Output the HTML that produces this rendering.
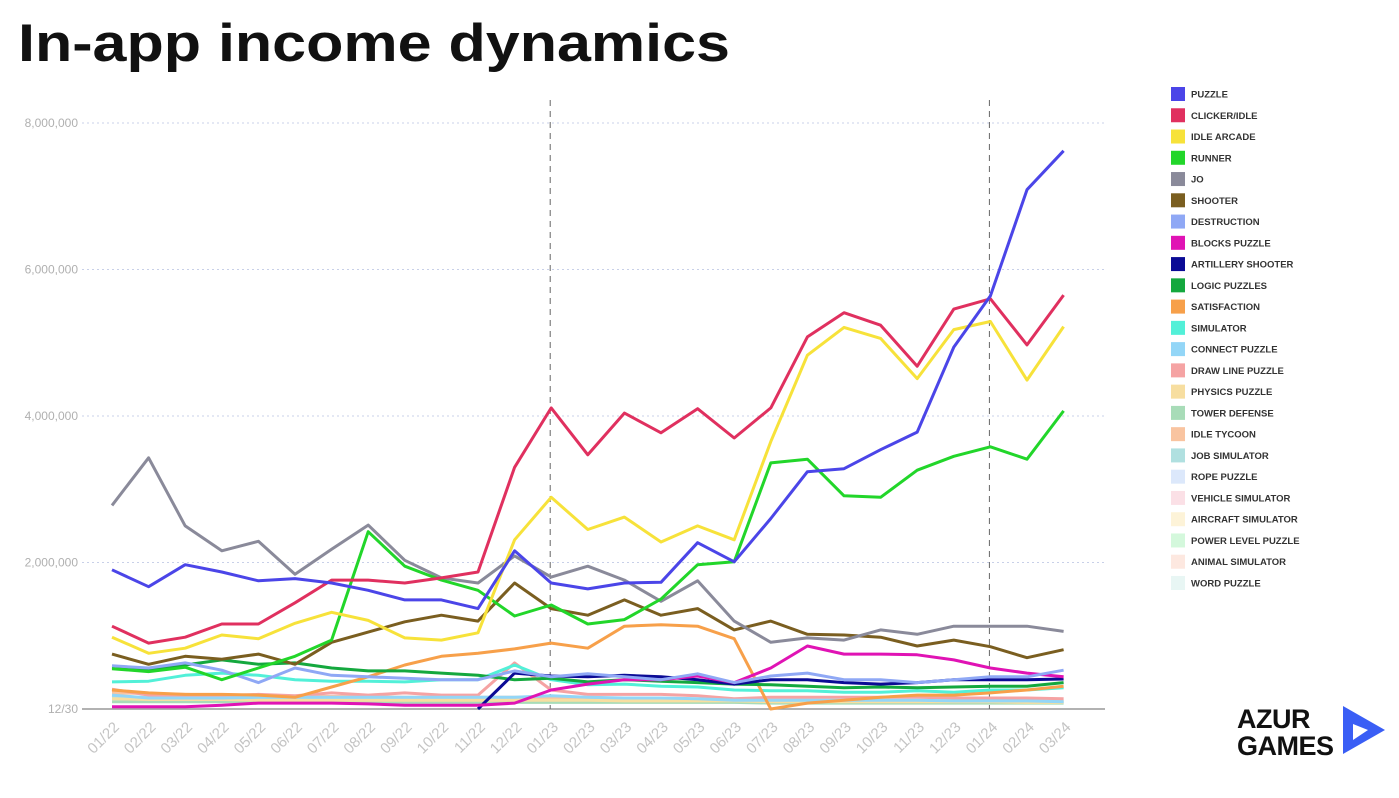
<!DOCTYPE html>
<html><head><meta charset="utf-8"><style>
body{margin:0;background:#fff;width:1399px;height:798px;overflow:hidden;font-family:"Liberation Sans",sans-serif}
svg{position:absolute;left:0;top:0}
</style></head><body>
<svg id="c" width="1399" height="798">
<text x="18" y="61" font-size="53" font-weight="bold" fill="#111" textLength="712" lengthAdjust="spacingAndGlyphs">In-app income dynamics</text>
<g id="grid"></g><g id="lines"></g><g id="legend"></g>
<g>
<text x="1237" y="728" font-size="27" font-weight="bold" fill="#111" letter-spacing="-0.5">AZUR</text>
<text x="1237" y="755" font-size="27" font-weight="bold" fill="#111" letter-spacing="-0.5">GAMES</text>
<polygon points="1343,706 1385,730 1343,754" fill="#3a5ef5"/>
<polygon points="1353,724 1368,730 1353,740" fill="#fff"/>
</g>
</svg>
<script>
const months=["01/22","02/22","03/22","04/22","05/22","06/22","07/22","08/22","09/22","10/22","11/22","12/22","01/23","02/23","03/23","04/23","05/23","06/23","07/23","08/23","09/23","10/23","11/23","12/23","01/24","02/24","03/24"];
const yTicks=[0,2,4,6,8];
const yTickLabels=["12/30","2,000,000","4,000,000","6,000,000","8,000,000"];
const seriesNames=["PUZZLE","CLICKER/IDLE","IDLE ARCADE","RUNNER","JO","SHOOTER","DESTRUCTION","BLOCKS PUZZLE","ARTILLERY SHOOTER","LOGIC PUZZLES","SATISFACTION","SIMULATOR","CONNECT PUZZLE","DRAW LINE PUZZLE","PHYSICS PUZZLE","TOWER DEFENSE","IDLE TYCOON","JOB SIMULATOR","ROPE PUZZLE","VEHICLE SIMULATOR","AIRCRAFT SIMULATOR","POWER LEVEL PUZZLE","ANIMAL SIMULATOR","WORD PUZZLE"];
const seriesColors=["#4b45e8","#e0305f","#f7e23a","#22d62a","#8a8a9a","#7a5e20","#8fa8f5","#e013b4","#0b0b95","#14a83e","#f7a04a","#52f0d8","#93d6f7","#f5a3a3","#f7dea0","#a8dcb8","#f9c4a0","#b0e0e0","#dce8fb","#fbe0e6","#fdf3d8","#d4f8dc","#fde8e0","#e8f6f4"];
const puzzle=[1.90,1.67,1.97,1.87,1.75,1.78,1.72,1.62,1.49,1.49,1.37,2.16,1.72,1.64,1.72,1.73,2.27,2.01,2.60,3.24,3.28,3.54,3.78,4.94,5.64,7.09,7.62];
const clicker=[1.13,0.90,0.98,1.16,1.16,1.45,1.76,1.76,1.72,1.79,1.87,3.30,4.11,3.47,4.04,3.77,4.10,3.70,4.11,5.08,5.41,5.24,4.68,5.46,5.60,4.97,5.65];
const idleArcade=[0.98,0.76,0.83,1.01,0.96,1.17,1.32,1.21,0.97,0.94,1.04,2.31,2.89,2.45,2.62,2.28,2.50,2.31,3.65,4.83,5.21,5.06,4.51,5.18,5.29,4.49,5.22];
const runner=[0.55,0.51,0.57,0.40,0.56,0.72,0.94,2.42,1.95,1.76,1.62,1.27,1.42,1.16,1.22,1.50,1.97,2.01,3.36,3.41,2.91,2.89,3.26,3.45,3.58,3.41,4.07];
const jo=[2.78,3.43,2.50,2.16,2.29,1.84,2.18,2.51,2.03,1.79,1.72,2.09,1.80,1.95,1.76,1.47,1.75,1.20,0.91,0.97,0.94,1.08,1.02,1.13,1.13,1.13,1.06];
const shooter=[0.75,0.61,0.72,0.68,0.75,0.61,0.91,1.05,1.19,1.28,1.20,1.72,1.37,1.28,1.49,1.28,1.37,1.08,1.20,1.02,1.01,0.98,0.86,0.94,0.85,0.70,0.81];
const destruction=[0.59,0.56,0.63,0.53,0.36,0.56,0.46,0.44,0.42,0.40,0.40,0.52,0.44,0.48,0.44,0.40,0.48,0.36,0.45,0.49,0.40,0.40,0.36,0.40,0.44,0.44,0.53];
const blocks=[0.03,0.03,0.03,0.05,0.08,0.08,0.08,0.07,0.05,0.05,0.05,0.08,0.26,0.34,0.40,0.40,0.45,0.36,0.56,0.86,0.75,0.75,0.74,0.67,0.56,0.49,0.44];
const artillery=[null,null,null,null,null,null,null,null,null,null,0,0.49,0.45,0.44,0.46,0.44,0.40,0.34,0.40,0.40,0.36,0.34,0.36,0.40,0.40,0.40,0.41];
const logic=[0.57,0.53,0.60,0.67,0.61,0.63,0.56,0.52,0.52,0.49,0.46,0.40,0.42,0.37,0.40,0.38,0.36,0.34,0.33,0.31,0.29,0.30,0.29,0.30,0.31,0.31,0.36];
const satisfaction=[0.26,0.22,0.20,0.20,0.19,0.16,0.30,0.44,0.60,0.72,0.76,0.82,0.90,0.83,1.13,1.15,1.13,0.96,0.00,0.08,0.12,0.16,0.19,0.19,0.22,0.26,0.31];
const simulator=[0.37,0.38,0.46,0.49,0.46,0.40,0.38,0.38,0.37,0.40,0.40,0.60,0.40,0.33,0.34,0.31,0.30,0.26,0.25,0.25,0.23,0.23,0.25,0.23,0.26,0.26,0.29];
const connect=[0.19,0.15,0.15,0.15,0.16,0.16,0.16,0.16,0.16,0.16,0.16,0.16,0.18,0.16,0.15,0.15,0.14,0.12,0.12,0.12,0.12,0.12,0.12,0.11,0.11,0.11,0.10];
const drawLine=[0.27,0.19,0.19,0.18,0.20,0.18,0.22,0.19,0.22,0.19,0.19,0.63,0.26,0.20,0.20,0.20,0.18,0.14,0.16,0.16,0.16,0.16,0.16,0.15,0.15,0.15,0.14];
const physics=[0.14,0.13,0.13,0.13,0.12,0.12,0.12,0.12,0.12,0.12,0.12,0.12,0.12,0.12,0.11,0.11,0.11,0.11,0.10,0.10,0.10,0.10,0.10,0.10,0.10,0.09,0.09];
const towerDefense=[0.10,0.10,0.10,0.10,0.10,0.10,0.10,0.10,0.09,0.09,0.09,0.09,0.09,0.09,0.09,0.09,0.09,0.09,0.08,0.08,0.08,0.08,0.08,0.08,0.08,0.08,0.08];
const idleTycoon=[0.22,0.21,0.20,0.19,0.18,0.17,0.17,0.17,0.16,0.16,0.16,0.16,0.15,0.14,0.14,0.14,0.13,0.13,0.12,0.12,0.12,0.12,0.11,0.11,0.11,0.11,0.11];
const jobSim=[0.16,0.16,0.15,0.15,0.15,0.15,0.15,0.14,0.14,0.14,0.14,0.13,0.13,0.13,0.13,0.12,0.12,0.12,0.12,0.12,0.11,0.11,0.11,0.11,0.11,0.10,0.10];
const seriesValues=[puzzle,clicker,idleArcade,runner,jo,shooter,destruction,blocks,artillery,logic,satisfaction,simulator,connect,drawLine,physics,towerDefense,idleTycoon,jobSim];
const NS="http://www.w3.org/2000/svg";
const x0=112,dx=36.6,y0=709,pxPerUnit=73.25;
const xs=i=>x0+i*dx, ys=v=>y0-v*pxPerUnit;
function mk(t,a,p){const e=document.createElementNS(NS,t);for(const k in a)e.setAttribute(k,a[k]);p.appendChild(e);return e;}
const grid=document.getElementById('grid');
yTicks.forEach((t,i)=>{
  if(t>0){const g=mk('line',{x1:82,x2:1105,y1:ys(t),y2:ys(t),stroke:'#c8d0e8','stroke-dasharray':'2,3','stroke-width':1},grid);
  
  }
  const l=mk('text',{x:78,y:ys(t)+4,'text-anchor':'end','font-size':12,fill:'#b0b0b0'},grid);
  
  
  l.textContent=yTickLabels[i];
});
const ax=mk('line',{x1:82,x2:1105,y1:y0,y2:y0,stroke:'#999','stroke-width':1.5},grid);


[12,24].forEach(i=>{const d=mk('line',{x1:xs(i)-1,x2:xs(i)-1,y1:100,y2:y0,stroke:'#666','stroke-dasharray':'6,5','stroke-width':1},grid);

});
months.forEach((m,i)=>{const t=mk('text',{x:0,y:0,'text-anchor':'end','font-size':15,fill:'#c4c4c4',transform:`translate(${xs(i)+8},${y0+19}) rotate(-45)`},grid);


t.textContent=m;});
const lines=document.getElementById('lines');
for(let s=seriesValues.length-1;s>=0;s--){
  const vals=seriesValues[s];let d='';
  vals.forEach((v,i)=>{if(v===null)return;d+=(d?'L':'M')+xs(i).toFixed(1)+','+ys(v).toFixed(1);});
  const p=mk('path',{d:d,fill:'none',stroke:seriesColors[s],'stroke-width':3,'stroke-linejoin':'round'},lines);
  
  
}
const lg=document.getElementById('legend');
seriesNames.forEach((n,i)=>{
  const y=94+i*21.26;
  const g=mk('g',{},lg);
  
  
  mk('rect',{x:1171,y:y-7,width:14,height:14,fill:seriesColors[i]},g);
  const t=mk('text',{x:1191,y:y+3.5,'font-size':9.5,'font-weight':'bold',fill:'#333'},g);
  t.textContent=n;
});
</script>
</body></html>
